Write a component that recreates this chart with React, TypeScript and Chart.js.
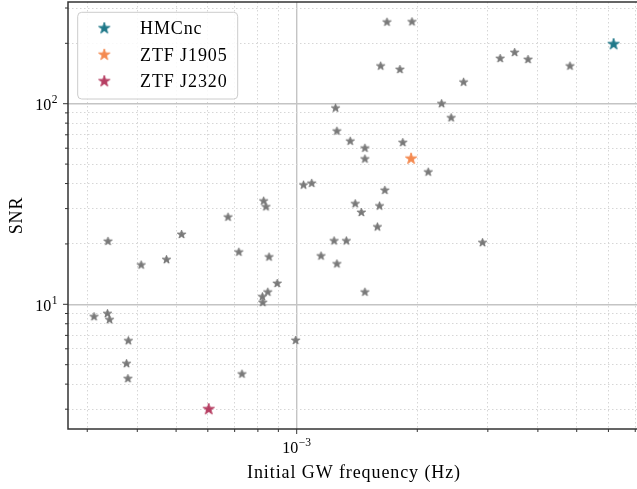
import { useEffect, useRef } from 'react';
import { Chart, registerables } from 'chart.js';

Chart.register(...registerables);

// ---- data ----
const otherFreq = [
  1.68e-3, 1.94e-3, 1.62e-3, 1.81e-3, 1.25e-3, 2.30e-3, 2.43e-3, 2.61e-3, 3.22e-3, 3.50e-3,
  3.78e-3, 4.81e-3, 1.26e-3, 1.36e-3, 1.48e-3, 1.48e-3, 1.84e-3, 2.13e-3, 1.04e-3, 1.09e-3,
  1.66e-3, 1.40e-3, 1.61e-3, 1.45e-3, 1.59e-3, 1.24e-3, 1.33e-3, 2.91e-3, 1.15e-3, 1.26e-3,
  1.48e-3, 3.38e-4, 4.09e-4, 4.73e-4, 5.16e-4, 6.74e-4, 7.17e-4, 8.27e-4, 8.38e-4, 8.53e-4,
  8.94e-4, 8.47e-4, 8.21e-4, 8.23e-4, 3.12e-4, 3.37e-4, 3.41e-4, 3.80e-4, 3.76e-4, 3.79e-4,
  7.30e-4, 9.94e-4,
];
const otherSNR = [
  255, 256, 154, 148, 95, 100, 85, 128, 168, 180,
  166, 154, 73, 65, 60, 53, 64, 45.6, 39.3, 40.1,
  37, 31.7, 30.9, 28.7, 24.3, 20.7, 20.7, 20.3, 17.4, 15.9,
  11.5, 20.6, 15.7, 16.7, 22.3, 27.2, 18.2, 32.7, 30.6, 17.2,
  12.7, 11.5, 10.9, 10.2, 8.67, 8.98, 8.38, 6.58, 5.06, 4.26,
  4.49, 6.61,
];
const hmcncFreq = [6.18e-3];
const hmcncSNR = [198];
const j1905Freq = [1.93e-3];
const j1905SNR = [53.2];
const j2320Freq = [6.03e-4];
const j2320SNR = [3.0];

const seriesLabels = ['HMCnc', 'ZTF J1905', 'ZTF J2320'];
const xTickValues = [1e-3];
const xTickLabels = [['10', '\u22123']];
const yTickValues = [10, 100];
const yTickLabels = [['10', '1'], ['10', '2']];
const xTitle = 'Initial GW frequency (Hz)';
const yTitle = 'SNR';
const xRange = [2.686e-4, 7.194e-3];
const yRange = [2.39, 321.4];

// ---- styles ----
const GRAY = '#787878';
const COLORS = ['#1f7889', '#f4894f', '#b63e62'];
const SERIF = '"Liberation Serif", "Times New Roman", serif';

function makeStar(color: string, r: number) {
  const size = Math.ceil(2 * r + 4);
  const c = document.createElement('canvas');
  c.width = size;
  c.height = size;
  const g = c.getContext('2d')!;
  g.translate(size / 2, size / 2);
  g.beginPath();
  for (let i = 0; i < 10; i++) {
    const rr = i % 2 === 0 ? r : r * 0.381966;
    const a = -Math.PI / 2 + (i * Math.PI) / 5;
    const px = rr * Math.cos(a);
    const py = rr * Math.sin(a);
    if (i === 0) g.moveTo(px, py);
    else g.lineTo(px, py);
  }
  g.closePath();
  g.fillStyle = color;
  g.fill();
  g.lineWidth = 1;
  g.lineJoin = 'round';
  g.strokeStyle = color;
  g.stroke();
  return c;
}

function logTicks(min: number, max: number) {
  const out: { value: number; major: boolean }[] = [];
  const e0 = Math.floor(Math.log10(min));
  const e1 = Math.ceil(Math.log10(max));
  for (let e = e0; e <= e1; e++) {
    for (let m = 1; m <= 9; m++) {
      const v = m * Math.pow(10, e);
      if (v >= min && v <= max) out.push({ value: v, major: m === 1 });
    }
  }
  return out;
}

function drawPow(ctx: CanvasRenderingContext2D, base: string, exp: string, x: number, y: number, align: 'center' | 'right') {
  ctx.textAlign = 'left';
  ctx.textBaseline = 'alphabetic';
  ctx.font = `16px ${SERIF}`;
  const w1 = ctx.measureText(base).width;
  ctx.font = `11.5px ${SERIF}`;
  const w2 = ctx.measureText(exp).width;
  const total = w1 + w2 + 0.5;
  const start = align === 'center' ? x - total / 2 : x - total;
  ctx.font = `16px ${SERIF}`;
  ctx.fillText(base, start, y);
  ctx.font = `11.5px ${SERIF}`;
  ctx.fillText(exp, start + w1 + 0.5, y - 7);
}

export default function App() {
  const ref = useRef<HTMLCanvasElement | null>(null);

  useEffect(() => {
    const canvas = ref.current;
    if (!canvas) return;
    const grayStar = makeStar(GRAY, 4.4);
    const colorStars = COLORS.map((c) => makeStar(c, 5.9));

    const isMajor = (ctx: any) => !!(ctx.tick && ctx.tick.major);

    const deco = {
      id: 'deco',
      afterDatasetsDraw(chart: any) {
        const { ctx, chartArea: a, scales } = chart;
        const xs = scales.x;
        const ys = scales.y;
        ctx.save();
        // spines
        ctx.strokeStyle = '#333333';
        ctx.lineWidth = 1.5;
        ctx.strokeRect(a.left, a.top, a.right - a.left, a.bottom - a.top);
        // tick marks
        ctx.lineWidth = 1;
        ctx.strokeStyle = '#333333';
        ctx.beginPath();
        for (const t of xs.ticks) {
          const px = xs.getPixelForValue(t.value);
          const len = t.major ? 5 : 3;
          ctx.moveTo(px, a.bottom);
          ctx.lineTo(px, a.bottom + len);
        }
        for (const t of ys.ticks) {
          const py = ys.getPixelForValue(t.value);
          const len = t.major ? 5 : 3;
          ctx.moveTo(a.left, py);
          ctx.lineTo(a.left - len, py);
        }
        ctx.stroke();
        // tick labels
        ctx.fillStyle = '#000000';
        xTickValues.forEach((v, i) => {
          const px = xs.getPixelForValue(v);
          drawPow(ctx, xTickLabels[i][0], xTickLabels[i][1], px, a.bottom + 24, 'center');
        });
        yTickValues.forEach((v, i) => {
          const py = ys.getPixelForValue(v);
          drawPow(ctx, yTickLabels[i][0], yTickLabels[i][1], a.left - 10.5, py + 6.5, 'right');
        });
        // axis titles
        ctx.font = `18px ${SERIF}`;
        (ctx as any).letterSpacing = '0.9px';
        ctx.textAlign = 'center';
        ctx.textBaseline = 'alphabetic';
        ctx.fillText(xTitle, 354, 478);
        ctx.save();
        ctx.translate(21.5, (a.top + a.bottom) / 2);
        ctx.rotate(-Math.PI / 2);
        ctx.fillText(yTitle, 0, 0);
        ctx.restore();
        // legend
        const bx = 77.7, by = 12.3, bw = 160, bh = 86.7;
        ctx.beginPath();
        (ctx as any).roundRect(bx, by, bw, bh, 4);
        ctx.fillStyle = 'rgba(255,255,255,0.85)';
        ctx.fill();
        ctx.strokeStyle = '#cccccc';
        ctx.lineWidth = 1;
        ctx.stroke();
        const ds = chart.data.datasets.slice(1);
        ds.forEach((d: any, i: number) => {
          const cy = 28.3 + i * 26.5;
          const img = d.pointStyle as HTMLCanvasElement;
          ctx.drawImage(img, 104.3 - img.width / 2, cy - img.height / 2);
          ctx.fillStyle = '#000000';
          ctx.textAlign = 'left';
          ctx.font = `18px ${SERIF}`;
          ctx.fillText(d.label, 140, cy + 6);
        });
        ctx.restore();
      },
    };

    const toPts = (xs: number[], ys: number[]) => xs.map((x, i) => ({ x, y: ys[i] }));

    const chart = new Chart(canvas, {
      type: 'scatter',
      data: {
        datasets: [
          { label: 'others', data: toPts(otherFreq, otherSNR), pointStyle: grayStar as any, pointRadius: 5 },
          { label: seriesLabels[0], data: toPts(hmcncFreq, hmcncSNR), pointStyle: colorStars[0] as any, pointRadius: 7 },
          { label: seriesLabels[1], data: toPts(j1905Freq, j1905SNR), pointStyle: colorStars[1] as any, pointRadius: 7 },
          { label: seriesLabels[2], data: toPts(j2320Freq, j2320SNR), pointStyle: colorStars[2] as any, pointRadius: 7 },
        ],
      },
      options: {
        animation: false,
        responsive: false,
        maintainAspectRatio: false,
        devicePixelRatio: 1,
        events: [],
        layout: { autoPadding: false, padding: { top: 2, right: 5, left: 0, bottom: 0 } },
        plugins: { legend: { display: false }, tooltip: { enabled: false } },
        scales: {
          x: {
            type: 'logarithmic',
            min: xRange[0],
            max: xRange[1],
            bounds: 'data',
            afterBuildTicks: (s: any) => { s.ticks = logTicks(s.min, s.max); },
            afterFit: (s: any) => { s.height = 60; },
            ticks: { display: false },
            grid: {
              drawTicks: false,
              color: (c: any) => (isMajor(c) ? '#c4c4c4' : '#d6d6d6'),
              lineWidth: (c: any) => (isMajor(c) ? 1.4 : 1),
            },
            border: { display: false, dash: (c: any) => (isMajor(c) || !c.tick ? [] : [1.5, 2.5]) },
          },
          y: {
            type: 'logarithmic',
            min: yRange[0],
            max: yRange[1],
            bounds: 'data',
            afterBuildTicks: (s: any) => { s.ticks = logTicks(s.min, s.max); },
            afterFit: (s: any) => { s.width = 68; },
            ticks: { display: false },
            grid: {
              drawTicks: false,
              color: (c: any) => (isMajor(c) ? '#c4c4c4' : '#d6d6d6'),
              lineWidth: (c: any) => (isMajor(c) ? 1.4 : 1),
            },
            border: { display: false, dash: (c: any) => (isMajor(c) || !c.tick ? [] : [1.5, 2.5]) },
          },
        },
      } as any,
      plugins: [deco as any],
    });
    return () => chart.destroy();
  }, []);

  return (
    <div style={{ position: 'fixed', left: 0, top: 0, width: 637, height: 489, overflow: 'hidden', background: '#ffffff' }}>
      <canvas ref={ref} width={645} height={489} style={{ display: 'block', width: 645, height: 489 }} />
    </div>
  );
}
